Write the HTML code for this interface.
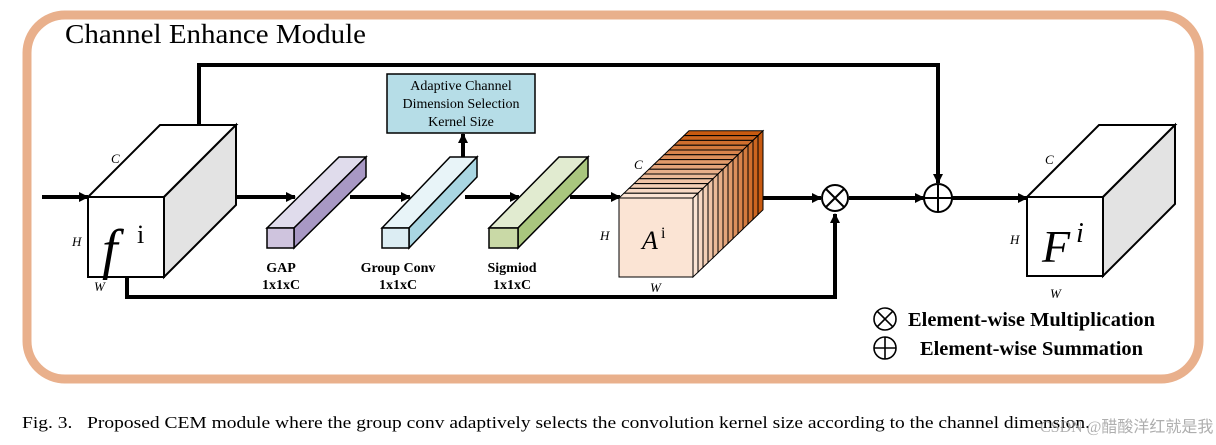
<!DOCTYPE html>
<html><head><meta charset="utf-8"><style>
html,body{margin:0;padding:0;background:#fff;}
svg{display:block;}
text{font-family:"Liberation Serif",serif;}
</style></head><body>
<svg id="s" width="1216" height="445" viewBox="0 0 1216 445" xmlns="http://www.w3.org/2000/svg">
<defs>
<marker id="ah" markerWidth="10" markerHeight="10" refX="9" refY="5" orient="auto" markerUnits="userSpaceOnUse">
<path d="M0,0 L10,5 L0,10 z" fill="#000"/></marker>
</defs>
<rect x="27" y="15" width="1172" height="364" rx="38" fill="none" stroke="#e9b08c" stroke-width="9"/>
<text x="65" y="43" font-size="27" textLength="301" lengthAdjust="spacingAndGlyphs">Channel Enhance Module</text>

<g stroke="#000" stroke-width="4" fill="none">
<path d="M199,125 V65 H938 V183" marker-end="url(#ah)"/>
<path d="M127,277 V297 H835 V214" marker-end="url(#ah)"/>
<path d="M42,197 H88" marker-end="url(#ah)"/>
<path d="M236,197 H295" marker-end="url(#ah)"/>
<path d="M350,197 H410" marker-end="url(#ah)"/>
<path d="M463,177 V134" marker-end="url(#ah)"/>
<path d="M465,197 H519" marker-end="url(#ah)"/>
<path d="M570,197 H620" marker-end="url(#ah)"/>
<path d="M763,198 H821" marker-end="url(#ah)"/>
<path d="M849,198 H924" marker-end="url(#ah)"/>
<path d="M952,198 H1027" marker-end="url(#ah)"/>
</g>

<g stroke="#000" stroke-width="2">
<polygon points="88,197 160,125 236,125 164,197" fill="#fff"/>
<polygon points="164,197 236,125 236,205 164,277" fill="#e3e3e3"/>
<rect x="88" y="197" width="76" height="80" fill="#fff"/>
</g>
<text x="102" y="268" font-size="56" font-style="italic">f</text>
<text x="137" y="243" font-size="26">i</text>
<text x="111" y="163" font-size="13" font-style="italic">C</text>
<text x="72" y="246" font-size="13" font-style="italic">H</text>
<text x="94" y="291" font-size="13" font-style="italic">W</text>

<g stroke="#000" stroke-width="1.5">
<polygon points="267,228 339,157 366,157 294,228" fill="#e0dcec"/>
<polygon points="294,228 366,157 366,177 294,248" fill="#a898c4"/>
<rect x="267" y="228" width="27" height="20" fill="#cfc4de"/>
</g>
<g stroke="#000" stroke-width="1.5">
<polygon points="382,228 450,157 477,157 409,228" fill="#e8f4f8"/>
<polygon points="409,228 477,157 477,177 409,248" fill="#a9d6e2"/>
<rect x="382" y="228" width="27" height="20" fill="#dcedf3"/>
</g>
<g stroke="#000" stroke-width="1.5">
<polygon points="489,228 559,157 588,157 518,228" fill="#e1ebd0"/>
<polygon points="518,228 588,157 588,177 518,248" fill="#a9c67e"/>
<rect x="489" y="228" width="29" height="20" fill="#c9d9a6"/>
</g>
<g font-size="14" font-weight="bold" text-anchor="middle">
<text x="281" y="272">GAP</text><text x="281" y="289">1x1xC</text>
<text x="398" y="272">Group Conv</text><text x="398" y="289">1x1xC</text>
<text x="512" y="272">Sigmiod</text><text x="512" y="289">1x1xC</text>
</g>
<rect x="387" y="74" width="148" height="59" fill="#b6dde7" stroke="#000" stroke-width="1.5"/>
<g font-size="14" text-anchor="middle">
<text x="461" y="90">Adaptive Channel</text>
<text x="461" y="108">Dimension Selection</text>
<text x="461" y="126">Kernel Size</text>
</g>

<g id="stack" stroke="#000" stroke-width="1"></g>
<rect x="619" y="198" width="74" height="79" fill="#fbe4d4" stroke="#000" stroke-width="1"/>
<text x="642" y="249" font-size="26" font-style="italic">A</text>
<text x="661" y="238" font-size="16">i</text>
<text x="634" y="169" font-size="13" font-style="italic">C</text>
<text x="600" y="240" font-size="13" font-style="italic">H</text>
<text x="650" y="292" font-size="13" font-style="italic">W</text>

<g stroke="#000" stroke-width="2" fill="#fff">
<circle cx="835" cy="198" r="13"/>
<path d="M826,189 L844,207 M844,189 L826,207"/>
<circle cx="938" cy="198" r="14"/>
<path d="M924,198 H952 M938,184 V212"/>
</g>

<g stroke="#000" stroke-width="2">
<polygon points="1027,197 1099,125 1175,125 1103,197" fill="#fff"/>
<polygon points="1103,197 1175,125 1175,204 1103,276" fill="#e3e3e3"/>
<rect x="1027" y="197" width="76" height="79" fill="#fff"/>
</g>
<text x="1042" y="262" font-size="46" font-style="italic">F</text>
<text x="1076" y="242" font-size="28" font-style="italic">i</text>
<text x="1045" y="164" font-size="13" font-style="italic">C</text>
<text x="1010" y="244" font-size="13" font-style="italic">H</text>
<text x="1050" y="298" font-size="13" font-style="italic">W</text>

<g stroke="#000" stroke-width="1.6" fill="none">
<circle cx="885" cy="319" r="11"/>
<path d="M877,311 L893,327 M893,311 L877,327"/>
<circle cx="885" cy="348" r="11"/>
<path d="M874,348 H896 M885,337 V359"/>
</g>
<text x="908" y="326" font-size="20" font-weight="bold" textLength="247" lengthAdjust="spacingAndGlyphs">Element-wise Multiplication</text>
<text x="920" y="355" font-size="20" font-weight="bold" textLength="223" lengthAdjust="spacingAndGlyphs">Element-wise Summation</text>

<text x="22" y="428" font-size="17" textLength="1068" lengthAdjust="spacingAndGlyphs" xml:space="preserve">Fig. 3.   Proposed CEM module where the group conv adaptively selects the convolution kernel size according to the channel dimension.</text>
<text x="1040" y="432" font-size="16" fill="#9a9a9a" font-family="Liberation Sans, Noto Sans CJK SC, sans-serif" opacity="0.8">CSDN @醋酸洋红就是我</text>
</svg>
<script>
(function(){
var g=document.getElementById('stack');var N=14,dx=5,dy=-4.8;
var c0=[251,228,212],c1=[200,90,16];
function col(t){return 'rgb('+c0.map(function(v,i){return Math.round(v+(c1[i]-v)*t)}).join(',')+')';}
var s='';
for(var k=N-1;k>=0;k--){
 var x=619+k*dx,y=198+k*dy,t=k/(N-1),c=col(t);
 s+='<polygon points="'+x+','+y+' '+(x+dx)+','+(y+dy)+' '+(x+74+dx)+','+(y+dy)+' '+(x+74)+','+y+'" fill="'+c+'"/>';
 s+='<polygon points="'+(x+74)+','+y+' '+(x+74+dx)+','+(y+dy)+' '+(x+74+dx)+','+(y+79+dy)+' '+(x+74)+','+(y+79)+'" fill="'+c+'"/>';
}
g.innerHTML=s;
})();
</script>
</body></html>
